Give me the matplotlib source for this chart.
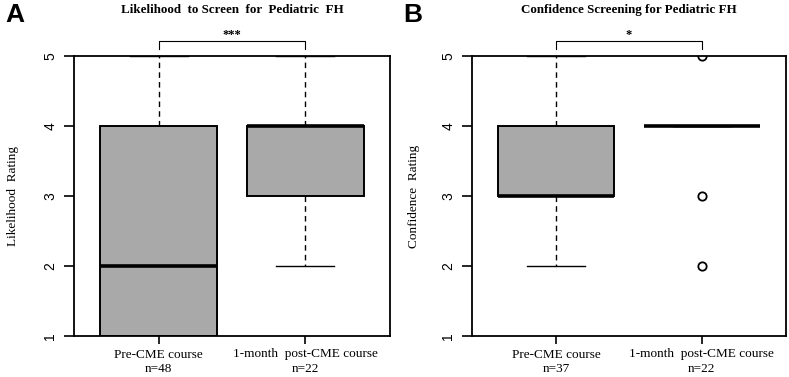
import matplotlib.pyplot as plt

# --- data ---
groups = ['Pre-CME course', '1-month  post-CME course']

# panel A: Likelihood to screen
a_n = [48, 22]
a_whislo = [1, 2]
a_q1 = [1, 3]
a_med = [2, 4]
a_q3 = [4, 4]
a_whishi = [5, 5]
a_fliers = [[], []]
a_stars = '***'

# panel B: Confidence screening
b_n = [37, 22]
b_whislo = [2, 4]
b_q1 = [3, 4]
b_med = [3, 4]
b_q3 = [4, 4]
b_whishi = [5, 4]
b_fliers = [[], [5, 3, 2]]
b_stars = '*'

yticks = [1, 2, 3, 4, 5]

SERIF = ['Liberation Serif', 'DejaVu Serif']
SANS = ['Liberation Sans', 'DejaVu Sans']


def panel(ax, n, whislo, q1, med, q3, whishi, fliers, title, ylabel, stars, letter, lab_x):
    stats = []
    for i in range(len(groups)):
        stats.append(dict(med=med[i], q1=q1[i], q3=q3[i], whislo=whislo[i],
                          whishi=whishi[i], fliers=fliers[i]))
    ax.bxp(stats, positions=[1, 2], widths=0.8, capwidths=0.4, patch_artist=True,
           boxprops=dict(facecolor='#a9a9a9', edgecolor='black', linewidth=1.4),
           medianprops=dict(color='black', linewidth=2.6, solid_capstyle='butt'),
           whiskerprops=dict(color='black', linewidth=1.0, linestyle=(0, (4, 3))),
           capprops=dict(color='black', linewidth=1.0),
           flierprops=dict(marker='o', markerfacecolor='none', markeredgecolor='black',
                           markersize=6, markeredgewidth=1.3))
    ax.set_xlim(0.42, 2.58)
    ax.set_ylim(1, 5)
    ax.set_yticks(yticks)
    ax.set_yticklabels([str(t) for t in yticks], rotation=90, va='center',
                       family=SANS, fontsize=10)
    ax.set_xticks([1, 2])
    ax.set_xticklabels(['%s\nn=%d' % (g, k) for g, k in zip(groups, n)],
                       family=SERIF, fontsize=9.5, linespacing=1.3)
    ax.tick_params(axis='y', length=7, width=1.2, pad=5)
    ax.tick_params(axis='x', length=6, width=1.2, pad=3)
    for s in ax.spines.values():
        s.set_linewidth(1.3)
    ax.set_title(title, family=SERIF, fontweight='bold', fontsize=9.4, pad=31)
    ax.set_ylabel(ylabel, family=SERIF, fontsize=9.5)
    ax.yaxis.set_label_coords(lab_x, 0.5)

    # significance bracket
    top, leg = 5.21, 5.10
    ax.plot([1, 1, 2, 2], [leg, top, top, leg], color='black', linewidth=0.8,
            clip_on=False)
    ax.text(1.5, top + 0.01, stars, ha='center', va='bottom', family=SERIF,
            fontweight='bold', fontsize=9)
    ax.text(-0.218, 1.146, letter, transform=ax.transAxes, family=SANS,
            fontweight='bold', fontsize=19, va='center', ha='left')


fig = plt.figure(figsize=(7.89, 3.77), dpi=100)
ax1 = fig.add_axes([74 / 789, 1 - 336 / 377, 316 / 789, 280 / 377])
ax2 = fig.add_axes([472 / 789, 1 - 336 / 377, 314 / 789, 280 / 377])

panel(ax1, a_n, a_whislo, a_q1, a_med, a_q3, a_whishi, a_fliers,
      'Likelihood  to Screen  for  Pediatric  FH', 'Likelihood  Rating', a_stars, 'A', -0.175)
panel(ax2, b_n, b_whislo, b_q1, b_med, b_q3, b_whishi, b_fliers,
      'Confidence Screening for Pediatric FH', 'Confidence  Rating', b_stars, 'B', -0.166)

fig.savefig('out.png', dpi=100)
